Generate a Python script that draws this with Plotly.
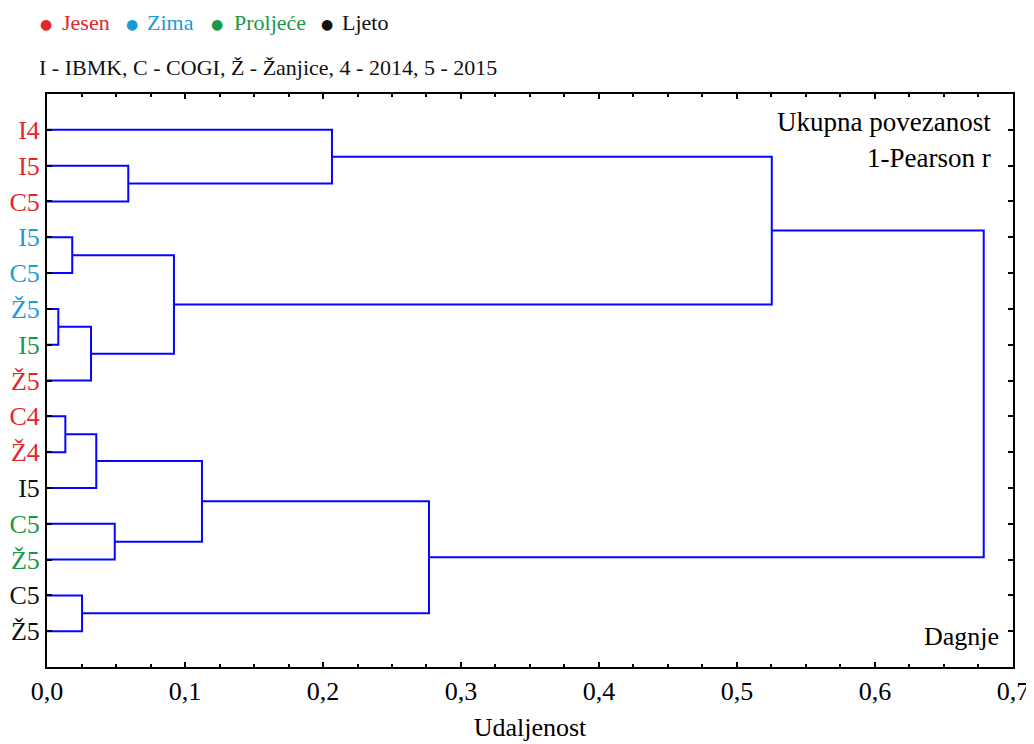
import plotly.graph_objects as go

# leaves, top to bottom
leaf_labels = ["I4", "I5", "C5", "I5", "C5", "Ž5", "I5", "Ž5",
               "C4", "Ž4", "I5", "C5", "Ž5", "C5", "Ž5"]
leaf_season = ["Jesen", "Jesen", "Jesen", "Zima", "Zima", "Zima", "Proljeće", "Jesen",
               "Jesen", "Jesen", "Ljeto", "Proljeće", "Proljeće", "Ljeto", "Ljeto"]

season_names = ["Jesen", "Zima", "Proljeće", "Ljeto"]
season_colors = {"Jesen": "#e3262b", "Zima": "#1b9ad8", "Proljeće": "#17994a", "Ljeto": "#111111"}

# merges: (cluster a, cluster b, distance); new clusters numbered from 15 upward
merge_a = [5, 8, 3, 13, 15, 16, 11, 1, 17, 20, 0, 24, 25, 27]
merge_b = [6, 9, 4, 14, 7, 10, 12, 2, 19, 21, 22, 18, 23, 26]
merge_h = [0.0082, 0.0133, 0.0183, 0.0254, 0.0319, 0.0357, 0.0491, 0.0589,
           0.0920, 0.1123, 0.2065, 0.2768, 0.5252, 0.6788]

n = len(leaf_labels)
pos = {i: float(i) for i in range(n)}
height = {i: 0.0 for i in range(n)}

xs, ys = [], []
for k, (a, b, h) in enumerate(zip(merge_a, merge_b, merge_h)):
    xs += [height[a], h, h, height[b], None]
    ys += [pos[a], pos[a], pos[b], pos[b], None]
    pos[n + k] = (pos[a] + pos[b]) / 2
    height[n + k] = h

font = "Liberation Serif, Times New Roman, serif"
W, H = 966, 573  # plot area in px, used to place the text boxes


def px(x):
    return (x - 47) / W


def py(y):
    return 1 + (94 - y) / H


fig = go.Figure()
fig.add_trace(go.Scatter(x=xs, y=ys, mode="lines",
                         line=dict(color="#0505ff", width=2),
                         hoverinfo="skip", showlegend=False))

ticktext = [f"<span style='color:{season_colors[s]}'>{lab}</span>"
            for lab, s in zip(leaf_labels, leaf_season)]

fig.update_xaxes(range=[0, 0.70001], dtick=0.1, tickformat=".1f", automargin=False,
                 ticks="inside", ticklen=5, tickwidth=1.5, tickcolor="black",
                 minor=dict(dtick=0.025, ticks="inside", ticklen=3, tickwidth=1.5, tickcolor="black"),
                 showline=True, linecolor="black", linewidth=2, mirror="ticks",
                 showgrid=False, zeroline=False,
                 tickfont=dict(size=26, color="black", family=font),
                 title=dict(text="Udaljenost", font=dict(size=26, color="black", family=font), standoff=13))
fig.update_yaxes(range=[15, -1], tickvals=list(range(n)), ticktext=ticktext, automargin=False,
                 ticks="inside", ticklen=5, tickwidth=1.5, tickcolor="black",
                 showline=True, linecolor="black", linewidth=2, mirror="ticks",
                 showgrid=False, zeroline=False,
                 tickfont=dict(size=26, family=font))

# page has an 8px body margin, so the figure starts at (8, 8)
fig.update_layout(
    width=1026, height=736,
    margin=dict(l=39, r=21, t=86, b=77),
    plot_bgcolor="white", paper_bgcolor="white",
    separators=",.",
    font=dict(family=font, size=22, color="black"),
)

# legend row
dot_x = [46, 132, 217, 327]
text_x = [60, 145, 232, 340]
for s, dx, tx in zip(season_names, dot_x, text_x):
    fig.add_annotation(text="●", xref="paper", yref="paper", x=px(dx), y=py(24),
                       xanchor="center", yanchor="middle", showarrow=False,
                       font=dict(size=14, family="DejaVu Sans", color=season_colors[s]))
    fig.add_annotation(text=s, xref="paper", yref="paper", x=px(tx), y=py(22),
                       xanchor="left", yanchor="middle", showarrow=False,
                       font=dict(size=22, family=font, color=season_colors[s]))

fig.add_annotation(text="I - IBMK, C - COGI, Ž - Žanjice, 4 - 2014, 5 - 2015",
                   xref="paper", yref="paper", x=px(37), y=py(68),
                   xanchor="left", yanchor="middle", showarrow=False,
                   font=dict(size=22, family=font, color="#111111"))
fig.add_annotation(text="Ukupna povezanost", xref="paper", yref="paper",
                   x=px(993), y=py(122), xanchor="right", yanchor="middle",
                   showarrow=False, font=dict(size=27, family=font))
fig.add_annotation(text="1-Pearson r", xref="paper", yref="paper",
                   x=px(993), y=py(158), xanchor="right", yanchor="middle",
                   showarrow=False, font=dict(size=27, family=font))
fig.add_annotation(text="Dagnje", xref="paper", yref="paper",
                   x=px(1001), y=py(636), xanchor="right", yanchor="middle",
                   showarrow=False, font=dict(size=26, family=font))

fig.write_html("out.html")
